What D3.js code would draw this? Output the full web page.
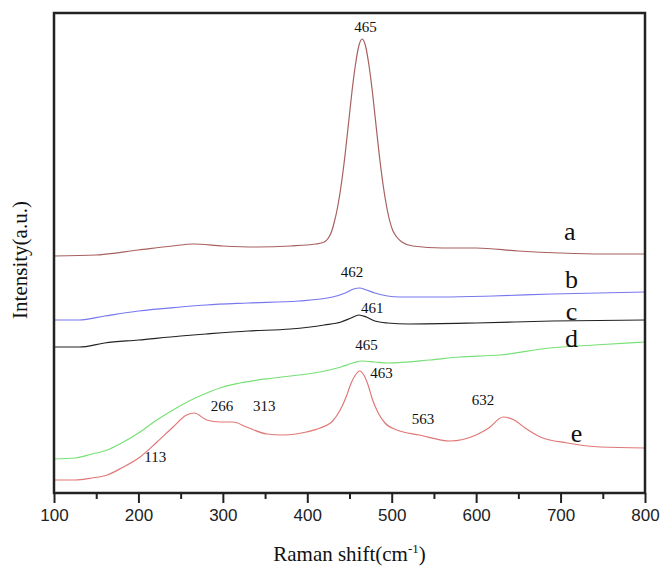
<!DOCTYPE html>
<html>
<head>
<meta charset="utf-8">
<script src="https://cdn.jsdelivr.net/npm/d3@7"></script>
<style>
  body { margin: 0; background: #fff; }
  svg { display: block; }
</style>
</head>
<body>
<div id="chart"></div>
<script>
// Raman spectra, [shift (cm-1), intensity (a.u.)]
var seriesA = [[100,237],[150,238],[200,243],[240,247],[265,249],[300,247],[340,246],[380,247],[410,249],[420,251],[425,255],[429,262],[432,271],[435,282],[440,307],[445,340],[449,371],[453,402],[457,428],[461,447],[465,454],[469,447],[473,428],[477,402],[481,371],[485,340],[490,307],[495,282],[501,263],[506,256],[512,251],[525,247],[560,245],[600,245],[650,242],[700,240],[750,239],[800,239]];
var seriesB = [[100,173],[130,173],[160,177],[200,182],[250,186],[280,188],[330,190],[390,192],[430,196],[445,200],[455,204],[462,205],[470,203],[480,200],[495,197],[510,196],[560,196],[620,197],[690,199],[800,201]];
var seriesC = [[100,146],[130,146],[160,150],[200,153],[250,157],[280,159],[330,162],[380,164],[420,168],[440,171],[452,175],[461,178],[470,176],[480,172],[495,170],[520,169],[600,170],[690,172],[800,173]];
var seriesD = [[100,34],[125,35],[145,39],[163,43],[180,50],[202,61],[220,72],[241,83],[260,92],[281,100],[300,106],[320,110],[360,115],[400,119],[415,121],[440,126],[454,130],[465,132],[480,131],[495,130],[545,133],[580,136],[628,138],[687,145],[740,148],[800,151]];
var seriesE = [[100,13],[125,13],[145,15],[163,18],[180,25],[202,36],[222,51],[241,66],[257,78],[266,80],[281,73],[297,71],[312,71],[328,66],[352,59],[371,58],[399,61],[415,65],[430,72],[439,83],[446,96],[452,110],[457,118],[462,122],[467,118],[472,108],[477,94],[484,80],[492,70],[506,63],[533,58],[569,52],[600,58],[615,65],[632,76],[645,73],[658,65],[676,56],[708,50],[747,46],[800,45]];

var seriesNames = ["a", "b", "c", "d", "e"];
var seriesColors = ["#a8605f", "#7777ee", "#222222", "#77e077", "#e07777"];

var xTicks = [100, 200, 300, 400, 500, 600, 700, 800];
var xMinorTicks = [150, 250, 350, 450, 550, 650, 750];

// text annotations: [text, shift, intensity]
var peakLabels = [["465",469,461],["462",453,216],["461",477,180],["465",470,143],["463",488,115],["113",220,31],["266",299,82],["313",349,82],["563",537,69],["632",608,88]];
var curveLabels = [["a",711,253],["b",713,205],["c",713,173],["d",713,146],["e",719,51]];

var serif = "'Liberation Serif', 'Times New Roman', 'DejaVu Serif', serif";
var sans = "'Liberation Sans', Arial, sans-serif";

var width = 667, height = 566;
var margin = {top: 13, right: 22, bottom: 73, left: 54};

var svg = d3.select("#chart").append("svg")
  .attr("width", width)
  .attr("height", height);

var x = d3.scaleLinear().domain([100, 800]).range([margin.left, width - margin.right]);
var y = d3.scaleLinear().domain([0, 480]).range([height - margin.bottom, margin.top]);

var line = d3.line()
  .x(d => x(d[0]))
  .y(d => y(d[1]))
  .curve(d3.curveMonotoneX);

var allSeries = [seriesA, seriesB, seriesC, seriesD, seriesE];

svg.selectAll("path.spec")
  .data(allSeries)
  .enter()
  .append("path")
  .attr("class", "spec")
  .attr("d", line)
  .attr("fill", "none")
  .attr("stroke", (d, i) => seriesColors[i])
  .attr("stroke-width", 1.2);

// bottom axis, major + minor outward ticks
var xAxis = d3.axisBottom(x).tickValues(xTicks).tickSize(10).tickPadding(6).tickFormat(d3.format("d"));
var gx = svg.append("g")
  .attr("transform", "translate(0," + (height - margin.bottom) + ")")
  .call(xAxis);
gx.select(".domain").remove();
gx.selectAll(".tick line").attr("stroke", "#222").attr("stroke-width", 2);
gx.selectAll(".tick text")
  .attr("font-family", sans)
  .attr("font-size", "17px")
  .attr("fill", "#222");

var gxm = svg.append("g")
  .attr("transform", "translate(0," + (height - margin.bottom) + ")")
  .call(d3.axisBottom(x).tickValues(xMinorTicks).tickSize(6).tickFormat(""));
gxm.select(".domain").remove();
gxm.selectAll(".tick line").attr("stroke", "#222").attr("stroke-width", 2);

// frame
svg.append("rect")
  .attr("x", margin.left)
  .attr("y", margin.top)
  .attr("width", width - margin.left - margin.right)
  .attr("height", height - margin.top - margin.bottom)
  .attr("fill", "none")
  .attr("stroke", "#222")
  .attr("stroke-width", 2.5);

svg.selectAll("text.peak")
  .data(peakLabels)
  .enter()
  .append("text")
  .attr("class", "peak")
  .attr("x", d => x(d[1]))
  .attr("y", d => y(d[2]))
  .attr("text-anchor", "middle")
  .attr("font-family", serif)
  .attr("font-size", "15px")
  .attr("fill", "#111")
  .text(d => d[0]);

svg.selectAll("text.cname")
  .data(curveLabels)
  .enter()
  .append("text")
  .attr("class", "cname")
  .attr("x", d => x(d[1]))
  .attr("y", d => y(d[2]))
  .attr("text-anchor", "middle")
  .attr("font-family", serif)
  .attr("font-size", "26px")
  .attr("fill", "#111")
  .text(d => d[0]);

// axis titles
var xt = svg.append("text")
  .attr("x", (margin.left + width - margin.right) / 2)
  .attr("y", 561)
  .attr("text-anchor", "middle")
  .attr("font-family", serif)
  .attr("font-size", "21px")
  .attr("fill", "#111");
xt.append("tspan").text("Raman shift(cm");
xt.append("tspan").attr("dy", -8).attr("font-size", "13px").text("-1");
xt.append("tspan").attr("dy", 8).text(")");

svg.append("text")
  .attr("transform", "translate(27," + 260 + ") rotate(-90)")
  .attr("text-anchor", "middle")
  .attr("font-family", serif)
  .attr("font-size", "21px")
  .attr("fill", "#111")
  .text("Intensity(a.u.)");
</script>
</body>
</html>
